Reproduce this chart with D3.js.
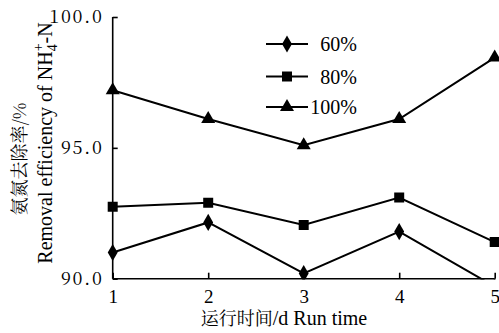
<!DOCTYPE html>
<html>
<head>
<meta charset="utf-8">
<script src="https://cdn.jsdelivr.net/npm/d3@7"></script>
<style>
html,body{margin:0;padding:0;background:#fff;}
svg{display:block;}
</style>
</head>
<body>
<svg id="chart" width="499" height="333"></svg>
<script>
const runDays = [1, 2, 3, 4, 5];
const seriesNames = ["60%", "80%", "100%"];
const values60 = [91.0, 92.15, 90.2, 91.8, 89.7];
const values80 = [92.75, 92.9, 92.05, 93.1, 91.4];
const values100 = [97.2, 96.1, 95.1, 96.1, 98.45];
const yTicks = [90, 95, 100];
const xTicks = [1, 2, 3, 4, 5];
const yTitleCN = "氨氮去除率/%";
const xTitleCN = "运行时间";
const xTitleEN = "/d Run time";

const SERIF = "Liberation Serif";
const CJK = "Noto Serif CJK SC";

const series = [
  {name: seriesNames[0], values: values60, symbol: d3.symbolDiamond},
  {name: seriesNames[1], values: values80, symbol: d3.symbolSquare},
  {name: seriesNames[2], values: values100, symbol: d3.symbolTriangle}
];

const svg = d3.select("#chart");
const x = d3.scaleLinear().domain([1, 5]).range([112.7, 494.7]);
const y = d3.scaleLinear().domain([90, 100]).range([278.7, 17]);

svg.append("defs").append("clipPath").attr("id", "plotclip")
  .append("rect").attr("x", 100).attr("y", 0).attr("width", 420).attr("height", 279.5);

// axes
const yAxis = d3.axisLeft(y).tickValues(yTicks).tickSize(-5).tickPadding(9)
  .tickFormat(d3.format(".1f"));
const gy = svg.append("g").attr("transform", `translate(${x.range()[0]},0)`).call(yAxis);
gy.attr("font-family", null);
gy.select(".domain").attr("stroke", "#000").attr("stroke-width", 1.6).attr("d", `M0,${y(100)}V${y(90)}`);
gy.selectAll(".tick line").attr("stroke", "#000").attr("stroke-width", 1.6);
gy.selectAll(".tick text").attr("font-size", 18).attr("letter-spacing", 1.8)
  .style("font-family", CJK).attr("dy", "0.32em");

const xAxis = d3.axisBottom(x).tickValues(xTicks).tickSize(-6).tickPadding(11)
  .tickFormat(d3.format("d"));
const gx = svg.append("g").attr("transform", `translate(0,${y.range()[0]})`).call(xAxis);
gx.attr("font-family", null);
gx.select(".domain").attr("stroke", "#000").attr("stroke-width", 1.6).attr("d", `M${x(1)},0H${x(5)}`);
gx.selectAll(".tick line").attr("stroke", "#000").attr("stroke-width", 1.6);
gx.selectAll(".tick text").attr("font-size", 19).style("font-family", SERIF);

// lines & markers
const line = d3.line().x((d, i) => x(runDays[i])).y(d => y(d));
const plot = svg.append("g").attr("clip-path", "url(#plotclip)");
function symSize(t) { return t === d3.symbolSquare ? 100 : 85; }
series.forEach(s => {
  plot.append("path").attr("d", line(s.values)).attr("fill", "none")
    .attr("stroke", "#000").attr("stroke-width", 2);
  const sym = d3.symbol().type(s.symbol).size(symSize(s.symbol));
  plot.selectAll(null).data(s.values).enter().append("path")
    .attr("d", sym)
    .attr("transform", (d, i) => `translate(${x(runDays[i])},${y(d)})`)
    .attr("fill", "#000");
});

// legend
const legendRows = [44, 76.5, 107];
series.forEach((s, i) => {
  const g = svg.append("g").attr("transform", `translate(0,${legendRows[i]})`);
  g.append("line").attr("x1", 266).attr("x2", 308).attr("y1", 0).attr("y2", 0)
    .attr("stroke", "#000").attr("stroke-width", 2);
  const sym = d3.symbol().type(s.symbol).size(symSize(s.symbol));
  g.append("path").attr("d", sym).attr("transform", "translate(287,0)").attr("fill", "#000");
  g.append("text").attr("x", 357).attr("y", 0).attr("dy", "0.35em")
    .attr("text-anchor", "end").attr("font-size", 20).style("font-family", SERIF).text(s.name);
});

// y titles
svg.append("text").attr("transform", "translate(26,159) rotate(-90)")
  .attr("text-anchor", "middle").attr("font-size", 18)
  .style("font-family", CJK).text(yTitleCN);

const ye = svg.append("text").attr("transform", "translate(52,143) rotate(-90)")
  .attr("text-anchor", "middle").attr("font-size", 20).style("font-family", SERIF);
ye.append("tspan").text("Removal efficiency of NH");
ye.append("tspan").attr("font-size", 14).attr("dy", 5).text("4");
ye.append("tspan").attr("font-size", 14).attr("dy", -14).attr("dx", -7).text("+");
ye.append("tspan").attr("dy", 9).text("-N");

// x title
const xt = svg.append("text").attr("x", 284).attr("y", 325).attr("text-anchor", "middle")
  .attr("font-size", 20).style("font-family", SERIF);
xt.append("tspan").style("font-family", CJK).attr("font-size", 18).text(xTitleCN);
xt.append("tspan").text(xTitleEN);
</script>
</body>
</html>
